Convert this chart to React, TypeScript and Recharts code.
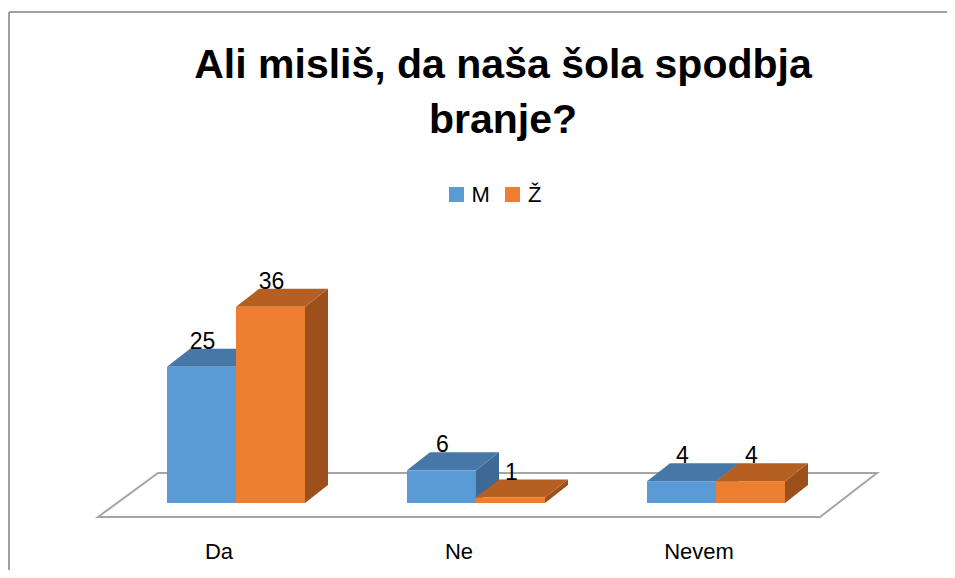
import { BarChart, Bar, XAxis, YAxis, Legend, LabelList, Customized } from "recharts";

const categories = ["Da", "Ne", "Nevem"];
const maleValues = [25, 6, 4];
const femaleValues = [36, 1, 4];
const titleLines = ["Ali misliš, da naša šola spodbja", "branje?"];

const data = categories.map((name, i) => ({
  name,
  M: maleValues[i],
  Z: femaleValues[i],
}));

const W = 947;
const H = 562;
const margin = { top: 277, right: 119, bottom: 7, left: 108 };
const PLOT_LEFT = margin.left;
const PLOT_RIGHT = W - margin.right;
const PLOT_BOTTOM = 495;

const DX = 23;
const DY = 18;
const FONT = "'Liberation Sans', Arial, sans-serif";

const shades = {
  M: { front: "#5B9BD5", top: "#4677A6", side: "#3D6994" },
  Z: { front: "#ED7D31", top: "#B65F22", side: "#9C511D" },
};

function makeBox(key: "M" | "Z") {
  return (props: any) => {
    const { x, y, width: w, height: h } = props;
    const c = shades[key];
    return (
      <g>
        <polygon
          points={`${x + w},${y} ${x + w + DX},${y - DY} ${x + w + DX},${y + h - DY} ${x + w},${y + h}`}
          fill={c.side}
        />
        <polygon
          points={`${x},${y} ${x + DX},${y - DY} ${x + w + DX},${y - DY} ${x + w},${y}`}
          fill={c.top}
        />
        <rect x={x} y={y} width={w} height={h} fill={c.front} />
      </g>
    );
  };
}

function Backdrop() {
  const fy = PLOT_BOTTOM + 14;
  const by = PLOT_BOTTOM - 30;
  const pts = `${PLOT_LEFT - 18},${fy} ${PLOT_RIGHT - 16},${fy} ${PLOT_RIGHT + 41},${by} ${PLOT_LEFT + 42},${by}`;
  return (
    <g>
      <line x1={1} y1={4} x2={W} y2={4} stroke="#a0a0a0" strokeWidth={2} />
      <line x1={1} y1={4} x2={1} y2={H} stroke="#a0a0a0" strokeWidth={2} />
      {titleLines.map((t, i) => (
        <text
          key={i}
          x={495}
          y={70 + i * 55}
          textAnchor="middle"
          fontFamily={FONT}
          fontWeight="bold"
          fontSize={41}
          fill="#000"
        >
          {t}
        </text>
      ))}
      <polygon points={pts} fill="#fff" stroke="#a5a5a5" strokeWidth={2} />
    </g>
  );
}

function CategoryTick(props: any) {
  const { x, y, payload } = props;
  return (
    <text x={x - 17} y={y + 48} textAnchor="middle" fontFamily={FONT} fontSize={22} fill="#000">
      {payload.value}
    </text>
  );
}

function ValueLabel(props: any) {
  const { x, y, width, value } = props;
  return (
    <text x={x + width / 2 + 1} y={y - 18} textAnchor="middle" fontFamily={FONT} fontSize={23} fill="#000">
      {value}
    </text>
  );
}

function LegendContent(props: any) {
  const items = props.payload || [];
  return (
    <div
      style={{
        display: "flex",
        justifyContent: "center",
        alignItems: "center",
        height: 21,
        paddingLeft: 27,
        fontFamily: FONT,
        fontSize: 22,
        color: "#000",
      }}
    >
      {items.map((it: any, i: number) => (
        <div key={i} style={{ display: "flex", alignItems: "center", marginLeft: i ? 15 : 0 }}>
          <span style={{ width: 15, height: 15, background: it.color, marginRight: 8 }} />
          <span>{it.value}</span>
        </div>
      ))}
    </div>
  );
}

export default function App() {
  return (
    <div style={{ width: W, height: H, overflow: "hidden", background: "#fff" }}>
      <BarChart width={W} height={H} data={data} margin={margin} barGap={0} barSize={69}>
        <Customized component={<Backdrop />} />
        <XAxis
          dataKey="name"
          height={60}
          axisLine={false}
          tickLine={false}
          tick={<CategoryTick />}
          interval={0}
        />
        <YAxis hide domain={[0, 40]} />
        <Legend
          verticalAlign="middle"
          align="center"
          wrapperStyle={{ top: 176, left: 0, width: W }}
          content={<LegendContent />}
        />
        <Bar dataKey="M" name="M" fill="#5B9BD5" shape={makeBox("M")} isAnimationActive={false}>
          <LabelList dataKey="M" content={<ValueLabel />} />
        </Bar>
        <Bar dataKey="Z" name="Ž" fill="#ED7D31" shape={makeBox("Z")} isAnimationActive={false}>
          <LabelList dataKey="Z" content={<ValueLabel />} />
        </Bar>
      </BarChart>
    </div>
  );
}
